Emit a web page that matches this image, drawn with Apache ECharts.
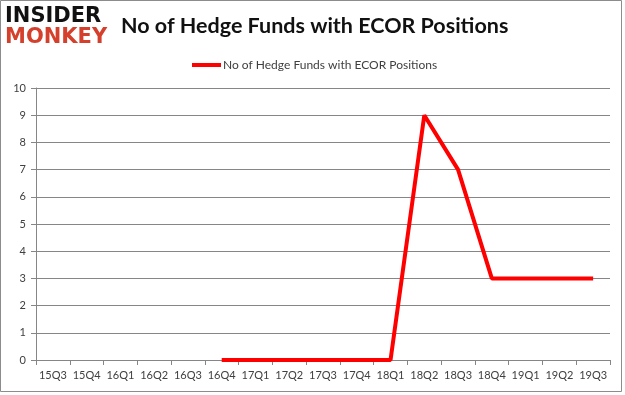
<!DOCTYPE html>
<html>
<head>
<meta charset="utf-8">
<script src="https://cdn.jsdelivr.net/npm/echarts@6/dist/echarts.min.js"></script>
<style>
html,body{margin:0;padding:0;background:#fff;}
#c{width:625px;height:395px;}
</style>
</head>
<body>
<div id="c"></div>
<script>
var categories = ['15Q3','15Q4','16Q1','16Q2','16Q3','16Q4','17Q1','17Q2','17Q3','17Q4','18Q1','18Q2','18Q3','18Q4','19Q1','19Q2','19Q3'];
var hedgeFunds = [null,null,null,null,null,0,0,0,0,0,0,9,7,3,3,3,3];
var yTicks = [0,1,2,3,4,5,6,7,8,9,10];
var seriesName = 'No of Hedge Funds with ECOR Positions';

var chart = echarts.init(document.getElementById('c'));
var font = 'Lato, "Open Sans", sans-serif';
chart.setOption({
  animation: false,
  backgroundColor: '#ffffff',
  graphic: [
    {type:'rect', shape:{x:0.5,y:0.5,width:621,height:391}, style:{fill:'none',stroke:'#8c8c8c',lineWidth:1}},
    {type:'text', left:5, top:6, style:{text:'INSIDER', font:'900 21px "DejaVu Sans", sans-serif', fill:'#111111'}},
    {type:'text', left:5, top:27, style:{text:'MONKEY', font:'900 21px "DejaVu Sans", sans-serif', fill:'#d4402c'}}
  ],
  title: {
    text: 'No of Hedge Funds with ECOR Positions',
    left: 116, top: 10,
    textStyle: {fontFamily: font, fontWeight: 'bold', fontSize: 21.5, color: '#111111'}
  },
  legend: {
    data: [seriesName],
    top: 54, left: 187, padding: [5,5,5,5],
    itemWidth: 29, itemHeight: 4, itemGap: 3,
    icon: 'rect',
    textStyle: {fontFamily: font, fontSize: 12, color: '#404040', padding: [0,0,0,-3]}
  },
  grid: {left: 36, right: 15, top: 88, bottom: 35, containLabel: false},
  xAxis: {
    type: 'category',
    data: categories,
    boundaryGap: true,
    axisLine: {lineStyle: {color: '#868686'}},
    axisTick: {show: true, alignWithLabel: false, length: 5, lineStyle: {color: '#868686'}},
    axisLabel: {fontFamily: font, fontSize: 11, color: '#404040', margin: 10, interval: 0}
  },
  yAxis: {
    type: 'value',
    min: yTicks[0], max: yTicks[yTicks.length-1], interval: 1,
    axisLine: {show: true, lineStyle: {color: '#868686'}},
    axisTick: {show: true, length: 5, lineStyle: {color: '#868686'}},
    splitLine: {lineStyle: {color: '#868686'}},
    axisLabel: {fontFamily: font, fontSize: 11, color: '#404040', margin: 10}
  },
  series: [{
    name: seriesName,
    type: 'line',
    data: hedgeFunds,
    symbol: 'none',
    connectNulls: false,
    lineStyle: {color: '#ff0000', width: 4},
    itemStyle: {color: '#ff0000'}
  }]
});
</script>
</body>
</html>
